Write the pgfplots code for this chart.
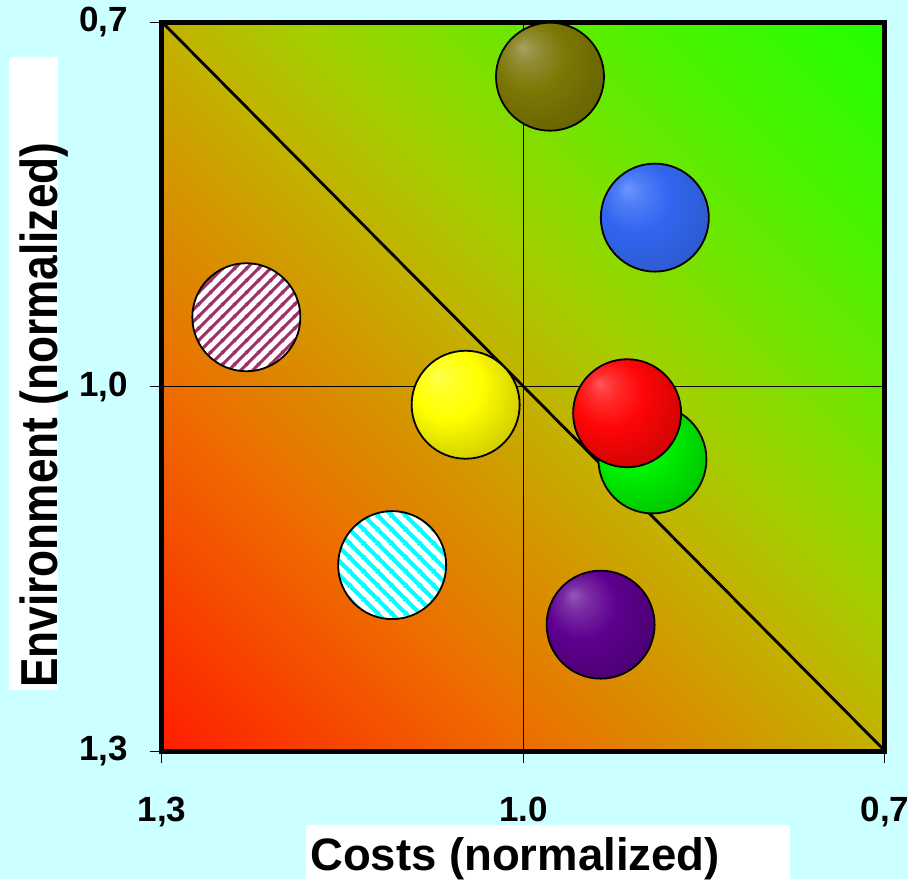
\documentclass[border=0pt]{standalone}
\usepackage{pgfplots}
\pgfplotsset{compat=1.18}
\usepackage{graphicx}
\usepackage{fontspec}
\setmainfont{Liberation Sans}

\definecolor{pagebg}{HTML}{CCFFFF}
% diagonal background ramp, red (low-left) to green (top-right);
% a 45-degree shading spans the box diagonal between 14.64bp and 85.36bp
\definecolor{rampA}{HTML}{FF1E00}
\definecolor{rampB}{HTML}{EE6C00}
\definecolor{rampC}{HTML}{C2B200}
\definecolor{rampD}{HTML}{A2D000}
\definecolor{rampE}{HTML}{6EE600}
\definecolor{rampF}{HTML}{48F400}
\definecolor{rampG}{HTML}{22FF00}
\pgfdeclarehorizontalshading{ramp}{100bp}{color(0bp)=(rampA); color(14.64bp)=(rampA); color(32.32bp)=(rampB); color(50bp)=(rampC); color(57.07bp)=(rampD); color(66.27bp)=(rampE); color(74.75bp)=(rampF); color(85.36bp)=(rampG); color(100bp)=(rampG)}

% sphere colours: highlight, body, rim
\definecolor{oliveH}{HTML}{A6A266}\definecolor{oliveB}{HTML}{7C7804}\definecolor{oliveE}{HTML}{504C00}
\definecolor{blueH}{HTML}{6E96FF}\definecolor{blueB}{HTML}{3266F0}\definecolor{blueE}{HTML}{264CA8}
\definecolor{yellH}{HTML}{FFFF50}\definecolor{yellB}{HTML}{FFFF00}\definecolor{yellE}{HTML}{9C9000}
\definecolor{redH}{HTML}{FF5656}\definecolor{redB}{HTML}{FF0606}\definecolor{redE}{HTML}{980000}
\definecolor{greenH}{HTML}{48FF48}\definecolor{greenB}{HTML}{00F000}\definecolor{greenE}{HTML}{009400}
\definecolor{purpH}{HTML}{9458B8}\definecolor{purpB}{HTML}{5E0090}\definecolor{purpE}{HTML}{34004E}
\definecolor{hatchMaroon}{HTML}{993366}
\definecolor{hatchCyan}{HTML}{00FFFF}

\newcommand\spherebuild[2]{%
  \pgfdeclareradialshading{sph#1}{\pgfpoint{-13bp}{14bp}}{%
    color(0bp)=(#2H); color(6bp)=(#2H!50!#2B); color(16bp)=(#2B);
    color(32bp)=(#2B!55!#2E); color(50bp)=(#2E)}%
  \pgfdeclareplotmark{sph#1}{%
    \pgfpathcircle{\pgfpointorigin}{\pgfplotmarksize}%
    \pgfshadepath{sph#1}{0}%
    \pgfusepath{}%
    \pgfpathcircle{\pgfpointorigin}{\pgfplotmarksize}%
    \pgfsetlinewidth{1.8pt}\pgfsetstrokecolor{black}%
    \pgfusepathqstroke}}
\spherebuild{Olive}{olive}
\spherebuild{Blue}{blue}
\spherebuild{Yellow}{yell}
\spherebuild{Red}{red}
\spherebuild{Green}{green}
\spherebuild{Purple}{purp}

% stripe tiles for the two hatched discs
\pgfdeclarepatternformonly{stripesNE}{\pgfpointorigin}{\pgfqpoint{11.7pt}{11.7pt}}{\pgfqpoint{11.7pt}{11.7pt}}{%
  \pgfsetlinewidth{3pt}%
  \pgfpathmoveto{\pgfqpoint{-1pt}{-1pt}}\pgfpathlineto{\pgfqpoint{12.7pt}{12.7pt}}%
  \pgfpathmoveto{\pgfqpoint{-1pt}{10.7pt}}\pgfpathlineto{\pgfqpoint{1pt}{12.7pt}}%
  \pgfpathmoveto{\pgfqpoint{10.7pt}{-1pt}}\pgfpathlineto{\pgfqpoint{12.7pt}{1pt}}%
  \pgfusepath{stroke}}
\pgfdeclarepatternformonly{stripesNW}{\pgfpointorigin}{\pgfqpoint{14pt}{14pt}}{\pgfqpoint{14pt}{14pt}}{%
  \pgfsetlinewidth{4.4pt}%
  \pgfpathmoveto{\pgfqpoint{-1pt}{15pt}}\pgfpathlineto{\pgfqpoint{15pt}{-1pt}}%
  \pgfpathmoveto{\pgfqpoint{-1pt}{1pt}}\pgfpathlineto{\pgfqpoint{1pt}{-1pt}}%
  \pgfpathmoveto{\pgfqpoint{13pt}{15pt}}\pgfpathlineto{\pgfqpoint{15pt}{13pt}}%
  \pgfusepath{stroke}}

\newcommand\hatchbuild[3]{%
  \pgfdeclareplotmark{hatch#1}{%
    \pgfpathcircle{\pgfpointorigin}{\pgfplotmarksize}%
    \pgfsetfillcolor{white}\pgfusepathqfill
    \pgfpathcircle{\pgfpointorigin}{\pgfplotmarksize}%
    \pgfsetfillpattern{#2}{#3}\pgfusepathqfill
    \pgfpathcircle{\pgfpointorigin}{\pgfplotmarksize}%
    \pgfsetlinewidth{1.8pt}\pgfsetstrokecolor{black}%
    \pgfusepathqstroke}}
\hatchbuild{Maroon}{stripesNE}{hatchMaroon}
\hatchbuild{Cyan}{stripesNW}{hatchCyan}

\begin{document}
\begin{tikzpicture}[x=1pt,y=1pt]
  \fill[pagebg] (0,0) rectangle (908,879);

  % white boxes behind the axis titles
  \fill[white] (306,0) rectangle (790,54);
  \fill[white] (9,189) rectangle (58,822);

  \begin{axis}[
      at={(162pt,128pt)}, anchor=south west,
      scale only axis, width=723pt, height=729pt,
      xmin=0.7, xmax=1.3, ymin=0.7, ymax=1.3,
      x dir=reverse, y dir=reverse,
      xtick={0.7,1.0,1.3}, xticklabels={{0,7},{1.0},{1,3}},
      ytick={0.7,1.0,1.3}, yticklabels={{0,7},{1,0},{1,3}},
      xtick pos=left, ytick pos=left,
      tick align=outside, major tick length=12pt,
      tick style={black, line width=1pt},
      axis line style={black, line width=5pt},
      ticklabel style={font=\bfseries\fontsize{35}{40}\selectfont},
      yticklabel style={anchor=east, inner sep=0pt, xshift=-22pt},
      xticklabel style={anchor=north, inner sep=0pt, yshift=-34pt},
      axis background/.style={shade, shading=ramp, shading angle=45},
      clip=false,
      mark size=54pt,
    ]
    % reference cross at 1.0 / 1.0
    \addplot[black, line width=0.9pt] coordinates {(1.0,0.7) (1.0,1.3)};
    \addplot[black, line width=0.9pt] coordinates {(0.7,1.0) (1.3,1.0)};

    \addplot[only marks, mark=hatchMaroon] coordinates {(1.230,0.943)};
    \addplot[only marks, mark=hatchCyan]   coordinates {(1.109,1.147)};
    \addplot[only marks, mark=sphOlive]    coordinates {(0.978,0.745)};
    \addplot[only marks, mark=sphBlue]     coordinates {(0.891,0.861)};
    \addplot[only marks, mark=sphYellow]   coordinates {(1.048,1.015)};
    \addplot[only marks, mark=sphPurple]   coordinates {(0.936,1.196)};
    \addplot[only marks, mark=sphGreen]    coordinates {(0.893,1.060)};

    % break-even diagonal
    \addplot[black, line width=2.8pt] coordinates {(1.3,0.7) (0.7,1.3)};

    \addplot[only marks, mark=sphRed]      coordinates {(0.914,1.022)};
  \end{axis}

  \node[anchor=base west, inner sep=0pt] at (310,9)
    {\bfseries\fontsize{45.5}{50}\selectfont Costs (normalized)};
  \node[anchor=base west, inner sep=0pt, rotate=90] at (57,191)
    {\scalebox{0.85}[1]{\bfseries\fontsize{52}{56}\selectfont Environment (normalized)}};

  \pgfresetboundingbox
  \path[use as bounding box] (0,0) rectangle (908,879);
\end{tikzpicture}
\end{document}
